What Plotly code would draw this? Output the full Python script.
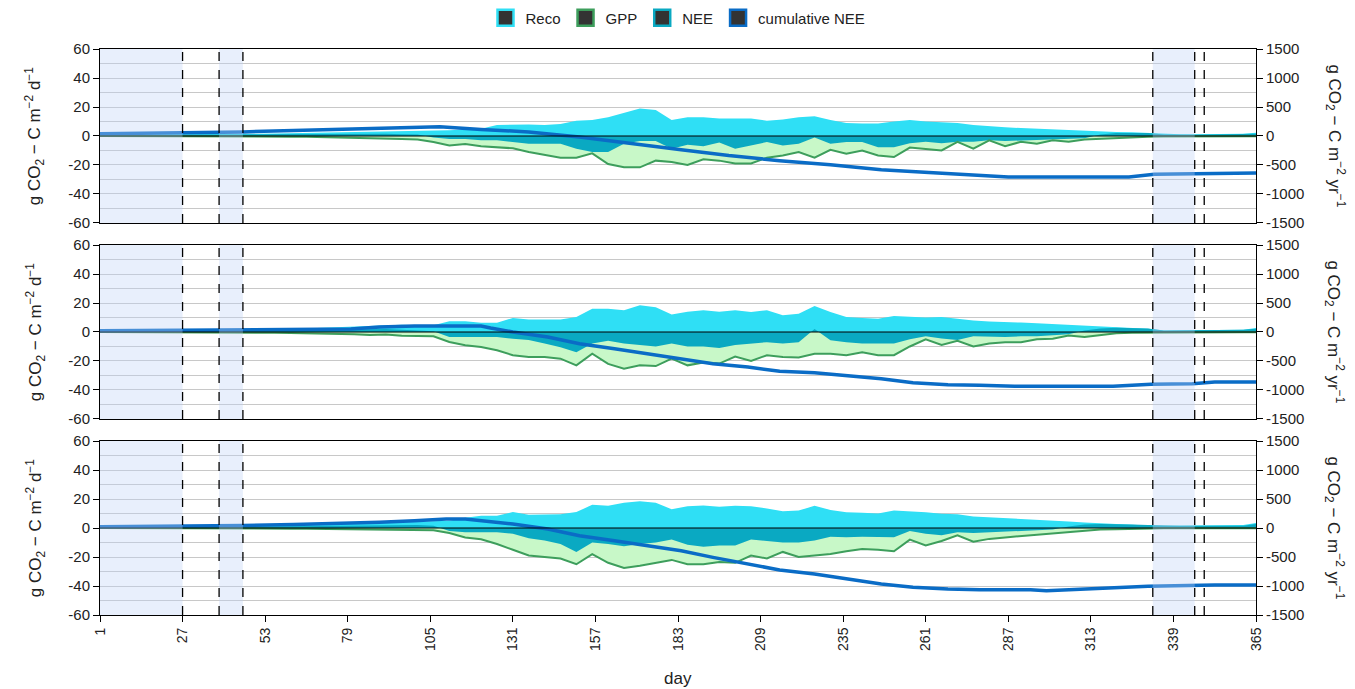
import plotly.graph_objects as go

# ---------------- data ----------------
days = [1, 6, 11, 16, 21, 26, 31, 36, 41, 46, 51, 56, 61, 66, 71, 76, 81, 86, 91, 96,
        101, 106, 111, 116, 121, 126, 131, 136, 141, 146, 151, 156, 161, 166, 171, 176, 181, 186, 191, 196,
        201, 206, 211, 216, 221, 226, 231, 236, 241, 246, 251, 256, 261, 266, 271, 276, 281, 286, 291, 296,
        301, 306, 311, 316, 321, 326, 331, 336, 341, 346, 351, 356, 361, 365]

reco1 = [1.0, 1.0, 1.0, 1.0, 1.0, 1.0, 1.0, 1.0, 1.2, 1.5,
         1.5, 1.8, 2.0, 2.0, 2.2, 2.5, 2.8, 3.0, 3.0, 3.2,
         3.5, 3.5, 4.0, 4.5, 5.0, 7.5, 7.8, 8.0, 7.6, 8.2,
         10.5, 11.0, 13.0, 16.0, 19.0, 18.0, 11.0, 13.0, 13.0, 12.0,
         12.0, 12.0, 10.5, 11.4, 13.0, 13.7, 11.0, 9.0, 8.6, 8.6,
         10.0, 11.0, 10.0, 9.5, 9.0, 7.5, 6.5, 6.0, 5.5, 5.0,
         4.4, 4.0, 3.5, 3.2, 2.8, 2.5, 2.1, 1.3, 1.2, 1.2,
         1.3, 1.3, 1.5, 2.3]
gpp1 = [0, 0, 0, 0, 0, 0, 0, 0, 0, 0.2,
        0.3, 0.4, 0.5, 0.6, 0.8, 1.0, 1.1, 1.3, 1.5, 2.0,
        2.5, 4.2, 6.5, 5.5, 7.0, 8.0, 8.5, 11.0, 13.0, 15.0,
        15.0, 12.0, 19.3, 21.6, 21.6, 17.0, 18.0, 20.0, 16.0, 17.0,
        19.0, 19.0, 15.0, 13.5, 11.0, 15.0, 9.5, 12.3, 10.0, 13.5,
        14.5, 8.0, 9.0, 10.0, 4.0, 8.8, 3.0, 7.0, 4.0, 5.3,
        3.0, 4.0, 2.5, 2.0, 1.2, 0.8, 0.5, 0.3, 0.2, 0.2,
        0.2, 0.2, 0.2, 0.2]
nee1 = [0.5, 0.5, 0.5, 0.5, 0.5, 0.5, 0.5, 0.6, 0.8, 1.0,
        1.0, 1.2, 1.3, 1.3, 1.4, 1.5, 1.6, 1.6, 1.5, 1.2,
        1.0, -1.0, -2.0, -2.0, -3.0, -3.0, -4.0, -5.3, -5.3, -5.3,
        -8.8, -11.0, -11.0, -5.3, -3.5, -3.5, -8.8, -6.0, -7.0, -4.5,
        -8.8, -6.5, -4.2, -6.5, -5.3, -1.0, -5.3, -4.2, -4.2, -7.7,
        -7.7, -5.0, -4.0, -5.0, -4.0, -4.0, -3.0, -3.5, -3.0, -2.5,
        -2.0, -2.0, -1.5, 1.0, 2.0, 2.0, 2.0, 1.0, 0.8, 0.8,
        1.0, 1.0, 1.0, 1.5]

reco2 = [1.0, 1.0, 1.0, 1.0, 1.0, 1.0, 1.0, 1.0, 1.0, 1.2,
         1.5, 1.8, 2.0, 2.5, 3.0, 3.5, 4.0, 4.5, 5.0, 5.0,
         4.6, 4.6, 7.4, 7.4, 6.4, 6.4, 9.7, 8.7, 8.7, 8.7,
         10.3, 16.0, 16.0, 15.0, 18.4, 17.0, 12.0, 14.0, 15.0, 14.0,
         15.0, 13.8, 15.0, 11.5, 12.6, 18.0, 13.8, 10.3, 9.7, 9.2,
         11.0, 10.3, 10.0, 10.3, 9.0, 8.0, 7.2, 7.0, 6.5, 6.0,
         5.5, 4.5, 4.0, 3.6, 3.2, 2.6, 2.3, 1.1, 1.1, 1.1,
         1.1, 1.2, 1.5, 2.8]
gpp2 = [0, 0, 0, 0, 0, 0, 0, 0, 0, 0.2,
        0.3, 0.5, 0.7, 0.8, 1.0, 1.2, 1.5, 2.0, 1.8, 2.5,
        2.5, 3.0, 6.9, 9.2, 10.3, 12.6, 16.0, 17.2, 17.2, 18.4,
        23.0, 15.0, 22.0, 25.3, 23.0, 23.5, 18.4, 23.0, 21.0, 21.8,
        17.0, 20.0, 16.0, 17.2, 17.5, 15.0, 15.0, 16.0, 14.0, 16.0,
        16.0, 10.0, 5.0, 9.0, 6.0, 10.0, 8.0, 7.0, 7.0, 5.0,
        4.6, 2.5, 3.4, 2.0, 0.8, 0.5, 0.4, 0.2, 0.2, 0.2,
        0.2, 0.2, 0.2, 0.2]
nee2 = [0.5, 0.5, 0.5, 0.5, 0.5, 0.5, 0.5, 0.6, 0.7, 0.8,
        1.0, 1.1, 1.2, 1.4, 1.6, 1.8, 2.0, 2.0, 2.0, 1.5,
        1.0, 0.5, -3.4, -3.4, -3.4, -3.5, -4.6, -5.5, -8.0, -10.5,
        -14.0, -8.0, -6.0, -8.0, -9.0, -10.0, -8.0, -10.0, -10.0, -11.0,
        -9.0, -8.0, -7.0, -8.0, -7.0, 2.0, -5.7, -7.0, -8.0, -8.0,
        -8.0, -5.0, -3.0, -4.5, -5.5, -3.0, -3.4, -3.4, -3.0, -3.0,
        -2.3, -1.5, 1.0, 2.5, 3.0, 3.0, 2.5, 1.1, 1.1, 1.1,
        1.1, 1.2, 1.5, 2.3]

reco3 = [1.0, 1.0, 1.0, 1.0, 1.0, 1.0, 1.0, 1.0, 1.0, 1.2,
         1.4, 1.6, 1.8, 2.0, 2.4, 2.8, 3.2, 3.5, 3.9, 3.9,
         4.6, 4.6, 5.0, 7.0, 8.5, 8.5, 11.0, 9.2, 9.2, 9.5,
         11.0, 16.0, 15.4, 17.5, 18.5, 17.5, 13.0, 15.0, 15.5, 14.7,
         15.4, 15.0, 13.5, 11.5, 12.0, 15.4, 12.5, 10.8, 10.5, 10.0,
         12.0, 11.5, 10.8, 9.8, 9.5, 8.0, 7.5, 7.0, 6.5, 6.0,
         5.3, 4.5, 3.8, 3.2, 2.8, 2.2, 1.8, 1.5, 1.5, 1.8,
         1.8, 1.8, 2.0, 3.4]
gpp3 = [0, 0, 0, 0, 0, 0, 0, 0, 0, 0.2,
        0.3, 0.4, 0.5, 0.6, 0.7, 0.8, 0.9, 1.0, 1.0, 1.0,
        1.0, 1.5, 3.5, 6.5, 7.8, 11.0, 15.0, 19.0, 20.0, 21.0,
        25.0, 18.0, 24.0, 27.5, 26.0, 24.0, 22.0, 25.0, 25.0, 23.5,
        24.0, 19.0, 21.0, 16.5, 20.0, 19.0, 18.0, 16.0, 14.5, 15.0,
        16.0, 8.0, 12.0, 9.0, 5.0, 9.5, 7.5, 6.5, 5.5, 4.5,
        4.0, 3.0, 2.0, 1.0, 0.8, 0.5, 0.4, 0.2, 0.2, 0.2,
        0.2, 0.2, 0.2, 0.2]
nee3 = [0.5, 0.5, 0.5, 0.5, 0.5, 0.5, 0.5, 0.6, 0.7, 0.8,
        1.0, 1.1, 1.2, 1.4, 1.6, 1.8, 2.0, 2.0, 2.0, 2.0,
        2.0, 1.5, -2.0, -3.0, -3.0, -3.0, -4.0, -7.0, -8.7, -11.0,
        -16.5, -10.0, -11.0, -12.5, -11.0, -10.0, -8.0, -11.5, -13.0, -12.0,
        -12.0, -8.0, -9.0, -10.0, -10.0, -8.7, -6.0, -6.4, -6.0, -6.4,
        -6.4, -2.0, -4.0, -5.0, -3.0, -3.5, -3.0, -2.5, -2.0, -1.5,
        -1.0, 1.0, 2.5, 2.8, 2.8, 2.5, 2.0, 1.6, 1.6, 1.6,
        1.6, 1.6, 1.6, 2.8]

cum_days1 = [1, 27, 46, 62, 80, 92, 108, 121, 136, 152, 168, 184, 199, 215, 231, 247, 262, 287, 310, 325, 333, 345, 365]
cum1 = [40, 50, 70, 95, 117, 140, 158, 112, 70, -17, -133, -238, -338, -425, -495, -583, -630, -705, -705, -705, -660, -650, -640]

cum_days2 = [1, 27, 46, 62, 80, 89, 100, 110, 121, 124, 131, 142, 152, 163, 173, 184, 194, 205, 215, 226, 236, 247, 257, 268, 278, 289, 320, 332, 345, 352, 365]
cum2 = [20, 30, 35, 40, 50, 86, 103, 103, 103, 69, 0, -86, -201, -287, -374, -460, -546, -603, -678, -701, -747, -805, -874, -908, -920, -937, -937, -902, -891, -862, -862]

cum_days3 = [1, 27, 46, 62, 80, 89, 100, 110, 116, 121, 131, 142, 152, 163, 173, 184, 194, 205, 215, 226, 236, 247, 257, 268, 278, 294, 299, 310, 320, 331, 352, 365]
cum3 = [20, 30, 45, 60, 80, 98, 126, 155, 155, 126, 69, -17, -132, -218, -305, -391, -506, -620, -724, -793, -879, -966, -1023, -1052, -1063, -1063, -1080, -1052, -1023, -1006, -983, -983]

gap_periods = [(1, 27), (38.5, 46), (332.5, 345.7)]
dashed_days = [27, 38.5, 46, 332.5, 345.7, 348.7]

x_ticks = [1, 27, 53, 79, 105, 131, 157, 183, 209, 235, 261, 287, 313, 339, 365]
left_ticks = [-60, -40, -20, 0, 20, 40, 60]
right_ticks = [-1500, -1000, -500, 0, 500, 1000, 1500]

series_names = ["Reco", "GPP", "NEE", "cumulative NEE"]

# ---------------- styles ----------------
C_RECO = "#2fdff5"
C_GPP_FILL = "#c8f8c8"
C_GPP_LINE = "#3d9e5c"
C_NEE = "#0aa9c2"
C_CUM = "#0a6cc6"
legend_border = [C_RECO, C_GPP_LINE, C_NEE, C_CUM]
FONT = "Liberation Sans, Arial, sans-serif"

fig = go.Figure()

panels = [
    (reco1, gpp1, nee1, cum_days1, cum1),
    (reco2, gpp2, nee2, cum_days2, cum2),
    (reco3, gpp3, nee3, cum_days3, cum3),
]
domains = [[0.6926, 1.0], [0.3463, 0.6537], [0.0, 0.3074]]

for i, (reco, gpp, nee, cd, cum) in enumerate(panels):
    xa = "x" if i == 0 else f"x{i+1}"
    ya = "y" if i == 0 else f"y{2*i+1}"
    ya2 = f"y{2*i+2}"
    neg_gpp = [-g for g in gpp]
    fig.add_trace(go.Scatter(x=days, y=neg_gpp, fill="tozeroy", fillcolor=C_GPP_FILL,
                             line=dict(width=0), mode="lines", showlegend=False,
                             xaxis=xa, yaxis=ya, hoverinfo="skip"))
    fig.add_trace(go.Scatter(x=days, y=reco, fill="tozeroy", fillcolor=C_RECO,
                             line=dict(width=0), mode="lines", showlegend=False,
                             xaxis=xa, yaxis=ya, hoverinfo="skip"))
    fig.add_trace(go.Scatter(x=days, y=nee, fill="tozeroy", fillcolor=C_NEE,
                             line=dict(width=0), mode="lines", showlegend=False,
                             xaxis=xa, yaxis=ya, hoverinfo="skip"))
    fig.add_trace(go.Scatter(x=days, y=neg_gpp, mode="lines",
                             line=dict(color=C_GPP_LINE, width=2), showlegend=False,
                             xaxis=xa, yaxis=ya, hoverinfo="skip"))
    fig.add_trace(go.Scatter(x=cd, y=cum, mode="lines",
                             line=dict(color=C_CUM, width=3.5), showlegend=False,
                             xaxis=xa, yaxis=ya2, hoverinfo="skip"))

# legend entries
for name, col in zip(series_names, legend_border):
    fig.add_trace(go.Scatter(x=[None], y=[None], mode="markers", name=name,
                             marker=dict(symbol="square", size=16, color="#333333",
                                         line=dict(color=col, width=2.5)),
                             xaxis="x", yaxis="y"))

layout = dict(
    width=1355, height=689,
    margin=dict(l=100, r=99, t=49, b=74, autoexpand=False),
    plot_bgcolor="white", paper_bgcolor="white",
    font=dict(family=FONT, size=15, color="#222222"),
    showlegend=True,
    legend=dict(orientation="h", x=0.5, xanchor="center",
                yref="container", y=0.974, yanchor="middle",
                font=dict(size=15, color="#222222"), itemsizing="trace",
                bgcolor="rgba(0,0,0,0)"),
)

for i in range(3):
    xkey = "xaxis" if i == 0 else f"xaxis{i+1}"
    ykey = "yaxis" if i == 0 else f"yaxis{2*i+1}"
    y2key = f"yaxis{2*i+2}"
    ya = "y" if i == 0 else f"y{2*i+1}"
    xa = "x" if i == 0 else f"x{i+1}"
    last = (i == 2)
    layout[xkey] = dict(
        domain=[0, 1], anchor=ya, range=[1, 365],
        showgrid=False, zeroline=False,
        showline=True, linecolor="black", linewidth=1, mirror=True,
        tickvals=x_ticks, ticktext=[str(t) for t in x_ticks],
        ticks="outside" if last else "", ticklen=6, tickcolor="black",
        showticklabels=last, tickangle=-90, tickfont=dict(size=14, color="#222222"),
    )
    if i > 0:
        layout[xkey]["matches"] = "x"
    layout[ykey] = dict(
        domain=domains[i], anchor=xa, range=[-60, 60],
        tickvals=left_ticks, ticktext=[str(t) for t in left_ticks],
        ticks="outside", ticklen=6, tickcolor="black",
        showgrid=True, gridcolor="#c8c8c8", gridwidth=1,
        minor=dict(dtick=10, tick0=0, showgrid=True, gridcolor="#c8c8c8", gridwidth=1, ticks=""),
        zeroline=False, showline=True, linecolor="black", linewidth=1,
        tickfont=dict(size=15, color="#222222"),
    )
    layout[y2key] = dict(
        overlaying=ya, anchor=xa, side="right", range=[-1500, 1500],
        tickvals=right_ticks, ticktext=[str(t) for t in right_ticks],
        ticks="outside", ticklen=6, tickcolor="black",
        showgrid=False, zeroline=False, showline=True, linecolor="black", linewidth=1,
        tickfont=dict(size=15, color="#222222"),
    )

fig.update_layout(**layout)

shapes = []
annotations = []
for i in range(3):
    xa = "x" if i == 0 else f"x{i+1}"
    ya = "y" if i == 0 else f"y{2*i+1}"
    shapes.append(dict(type="line", xref=f"{xa} domain", yref=ya, x0=0, x1=1, y0=0, y1=0,
                       line=dict(color="black", width=1.2), layer="above"))
    for (a, b) in gap_periods:
        shapes.append(dict(type="rect", xref=xa, yref=f"{ya} domain", x0=a, x1=b, y0=0, y1=1,
                           fillcolor="rgba(190,208,245,0.35)", line=dict(width=0), layer="above"))
    for d in dashed_days:
        shapes.append(dict(type="line", xref=xa, yref=f"{ya} domain", x0=d, x1=d, y0=0, y1=1,
                           line=dict(color="black", width=1.3, dash="dash"), layer="above"))
    yc = (domains[i][0] + domains[i][1]) / 2
    annotations.append(dict(text="g CO<sub>2</sub> \u2212 C m<sup>\u22122</sup> d<sup>\u22121</sup>",
                            xref="paper", yref="paper", x=-0.056, y=yc, textangle=-90,
                            showarrow=False, xanchor="center", yanchor="middle",
                            font=dict(size=17, color="#222222")))
    annotations.append(dict(text="g CO<sub>2</sub> \u2212 C m<sup>\u22122</sup> yr<sup>\u22121</sup>",
                            xref="paper", yref="paper", x=1.068, y=yc, textangle=90,
                            showarrow=False, xanchor="center", yanchor="middle",
                            font=dict(size=17, color="#222222")))

annotations.append(dict(text="day", xref="paper", yref="paper", x=0.5, y=-0.113,
                        showarrow=False, xanchor="center", yanchor="middle",
                        font=dict(size=17, color="#222222")))

fig.update_layout(shapes=shapes, annotations=annotations)
fig.write_html("out.html")
